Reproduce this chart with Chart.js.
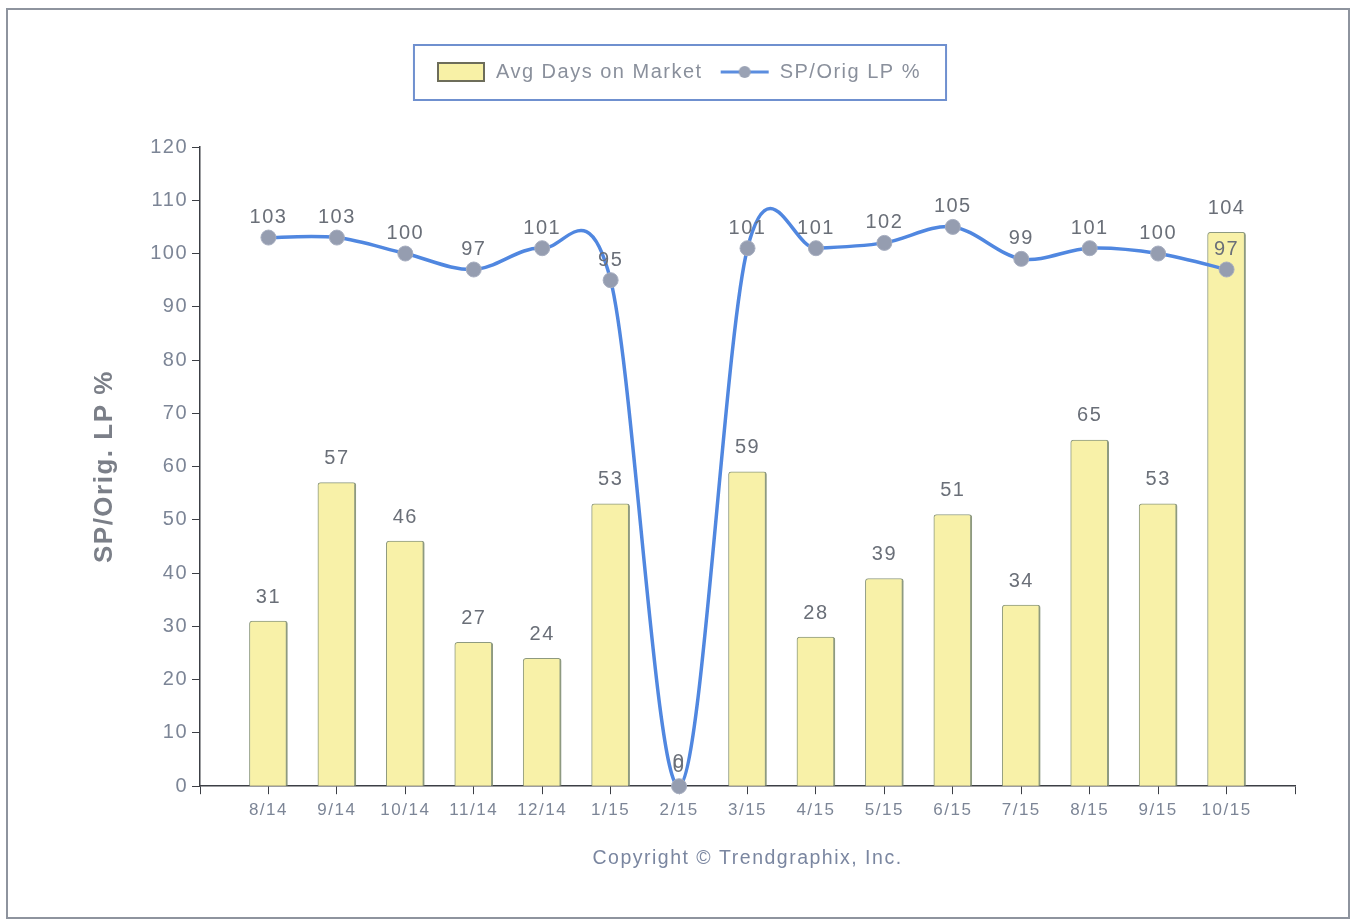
<!DOCTYPE html>
<html>
<head>
<meta charset="utf-8">
<title>Avg Days on Market / SP/Orig LP %</title>
<script src="https://cdn.jsdelivr.net/npm/chart.js@4.4.1/dist/chart.umd.min.js"></script>
<style>
  html, body { margin: 0; padding: 0; background: #ffffff; }
  #wrap { width: 1357px; height: 921px; position: relative; }
</style>
</head>
<body>
<div id="wrap"><canvas id="chart" width="1357" height="921"></canvas></div>
<script>
// Monthly categories
const months = ['8/14', '9/14', '10/14', '11/14', '12/14', '1/15', '2/15', '3/15',
                '4/15', '5/15', '6/15', '7/15', '8/15', '9/15', '10/15'];
// Average days on market (bars)
const avgDaysOnMarket = [31, 57, 46, 27, 24, 53, 0, 59, 28, 39, 51, 34, 65, 53, 104];
// Sold price / original list price, percent (line)
const spOrigLpPct = [103, 103, 100, 97, 101, 95, 0, 101, 101, 102, 105, 99, 101, 100, 97];
// Value axis ticks
const yTicks = [0, 10, 20, 30, 40, 50, 60, 70, 80, 90, 100, 110, 120];

const FONT = "'Liberation Sans', Arial, sans-serif";
const LETTER_SPACING = '1.5px';

// One empty slot on each side of the months so the axis runs past the first and last bar
const labels = [''].concat(months, ['']);
const pad = arr => [null].concat(arr, [null]);

// Legend swatches
function barSwatch() {
  const c = document.createElement('canvas');
  c.width = 50; c.height = 22;
  const g = c.getContext('2d');
  g.fillStyle = '#f8f1a6';
  g.fillRect(2, 2, 46, 18);
  g.strokeStyle = '#6d6d5a';
  g.lineWidth = 2;
  g.strokeRect(2, 2, 46, 18);
  return c;
}
function lineSwatch() {
  const c = document.createElement('canvas');
  c.width = 52; c.height = 16;
  const g = c.getContext('2d');
  g.strokeStyle = '#5b8ddf';
  g.lineWidth = 3;
  g.beginPath(); g.moveTo(2, 8); g.lineTo(50, 8); g.stroke();
  g.fillStyle = '#9aa2b4';
  g.beginPath(); g.arc(26, 8, 6, 0, Math.PI * 2); g.fill();
  return c;
}
const swatches = [barSwatch(), lineSwatch()];

// Wide text spacing, outer frame and white background
const framePlugin = {
  id: 'frame',
  beforeUpdate(chart) {
    chart.ctx.letterSpacing = LETTER_SPACING;
  },
  beforeDraw(chart) {
    const ctx = chart.ctx;
    ctx.letterSpacing = LETTER_SPACING;
    ctx.save();
    ctx.fillStyle = '#ffffff';
    ctx.fillRect(0, 0, chart.width, chart.height);
    ctx.strokeStyle = '#8e949e';
    ctx.lineWidth = 2;
    ctx.strokeRect(7, 9, 1342, 909);
    ctx.restore();
  }
};

// Extra room under the legend, and a border around it
const LEGEND_GAP = 55;
const legendBoxPlugin = {
  id: 'legendBox',
  beforeUpdate(chart) {
    const lg = chart.legend;
    if (lg && !lg._gapAdded) {
      const fit = lg.fit.bind(lg);
      lg.fit = function () { fit(); this.height += LEGEND_GAP; };
      lg._gapAdded = true;
    }
  },
  afterDraw(chart) {
    const lg = chart.legend;
    if (!lg || !lg.legendHitBoxes || !lg.legendHitBoxes.length) return;
    const boxes = lg.legendHitBoxes;
    const left = Math.min(...boxes.map(b => b.left)) - 22;
    const right = Math.max(...boxes.map(b => b.left + b.width)) + 25;
    const ctx = chart.ctx;
    ctx.save();
    ctx.strokeStyle = '#6f90cf';
    ctx.lineWidth = 2;
    ctx.strokeRect(left, 45, right - left, 55);
    ctx.restore();
  }
};

// Uniform Catmull-Rom curve through the line points (the series overshoots between months)
const catmullRomPlugin = {
  id: 'catmullRom',
  beforeDatasetDraw(chart, args) {
    const meta = args.meta;
    if (meta.type !== 'line' || !meta.dataset) return;
    meta.dataset.updateControlPoints(chart.chartArea, 'x');
    const pts = meta.data.filter(p => !p.skip);
    for (let i = 0; i < pts.length; i++) {
      const p = pts[i];
      const prev = pts[i - 1] || p;
      const next = pts[i + 1] || p;
      const dx = (next.x - prev.x) / 6;
      const dy = (next.y - prev.y) / 6;
      p.cp1x = p.x - dx; p.cp1y = p.y - dy;
      p.cp2x = p.x + dx; p.cp2y = p.y + dy;
    }
  }
};

// Value labels above bars and points
const valueLabelPlugin = {
  id: 'valueLabels',
  afterDatasetsDraw(chart) {
    const ctx = chart.ctx;
    ctx.save();
    ctx.letterSpacing = LETTER_SPACING;
    ctx.font = '20px ' + FONT;
    ctx.textAlign = 'center';
    ctx.textBaseline = 'middle';
    ctx.fillStyle = '#6a6f78';
    [0, 1].forEach(di => {
      const meta = chart.getDatasetMeta(di);
      const values = chart.data.datasets[di].data;
      meta.data.forEach((el, i) => {
        const v = values[i];
        if (v === null || v === undefined) return;
        const off = meta.type === 'bar' ? 24 : 20;
        ctx.fillText(String(v), el.x, el.y - off);
      });
    });
    ctx.restore();
  }
};

const axisColor = '#3c3f45';
const tickColor = '#7c8596';

new Chart(document.getElementById('chart'), {
  type: 'bar',
  data: {
    labels: labels,
    datasets: [
      {
        type: 'bar',
        label: 'Avg Days on Market',
        data: pad(avgDaysOnMarket),
        backgroundColor: '#f8f1a8',
        borderColor: '#8e9a80',
        borderWidth: { left: 1, right: 2, top: 1, bottom: 0 },
        borderRadius: { topLeft: 3, topRight: 3, bottomLeft: 0, bottomRight: 0 },
        borderSkipped: 'bottom',
        barThickness: 38,
        order: 2
      },
      {
        type: 'line',
        label: 'SP/Orig LP %',
        data: pad(spOrigLpPct),
        borderColor: '#5087e0',
        borderWidth: 3.5,
        tension: 0.4,
        pointRadius: 7.5,
        pointBackgroundColor: '#959db0',
        pointBorderColor: '#a7aec0',
        pointBorderWidth: 1,
        clip: 12,
        order: 1
      }
    ]
  },
  options: {
    responsive: false,
    animation: false,
    layout: { padding: { left: 62, right: 62, top: 45, bottom: 51 } },
    plugins: {
      legend: {
        position: 'top',
        labels: {
          usePointStyle: true,
          pointStyleWidth: 50,
          boxHeight: 20,
          padding: 17,
          color: '#8a909c',
          font: { size: 20, family: FONT },
          generateLabels(chart) {
            const items = Chart.defaults.plugins.legend.labels.generateLabels(chart);
            items.sort((a, b) => a.datasetIndex - b.datasetIndex);
            items.forEach(it => { it.pointStyle = swatches[it.datasetIndex]; });
            return items;
          }
        }
      },
      tooltip: { enabled: false }
    },
    scales: {
      x: {
        type: 'category',
        offset: false,
        grid: { display: true, offset: false, drawOnChartArea: false, drawTicks: true, tickLength: 8, color: axisColor },
        border: { display: true, color: axisColor, width: 1.5 },
        ticks: { color: tickColor, font: { size: 17, family: FONT }, padding: 6, maxRotation: 0, autoSkip: false },
        title: {
          display: true,
          text: 'Copyright © Trendgraphix, Inc.',
          color: '#7a86a0',
          font: { size: 19.5, family: FONT },
          padding: { top: 20, bottom: 0 }
        }
      },
      y: {
        min: 0,
        max: 120,
        afterBuildTicks(scale) { scale.ticks = yTicks.map(v => ({ value: v })); },
        afterFit(scale) { scale.width = 138; },
        grid: { display: true, drawOnChartArea: false, drawTicks: true, tickLength: 8, color: axisColor },
        border: { display: true, color: axisColor, width: 1.5 },
        ticks: { color: tickColor, font: { size: 20, family: FONT }, padding: 4 },
        title: {
          display: true,
          text: 'SP/Orig. LP %',
          color: '#7b7f88',
          font: { size: 26, weight: 'bold', family: FONT },
          padding: { top: 27, bottom: 0 }
        }
      }
    }
  },
  plugins: [framePlugin, legendBoxPlugin, catmullRomPlugin, valueLabelPlugin]
});
</script>
</body>
</html>
